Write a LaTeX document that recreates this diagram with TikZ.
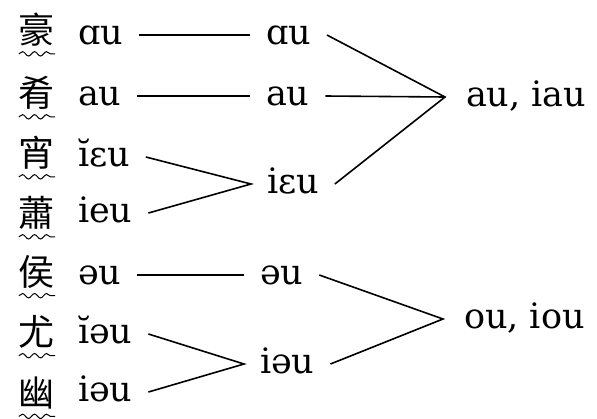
\documentclass[tikz,border=0pt]{standalone}
\usepackage{fontspec}
\setmainfont{DejaVu Serif}
\newfontfamily\cjk{Noto Sans CJK SC}
\usetikzlibrary{decorations.pathmorphing}

\def\ipasize{\fontsize{35}{40}\selectfont}
\def\hansize{\fontsize{36}{40}\selectfont\cjk}
\tikzset{rime/.style={anchor=mid west, inner sep=0pt, outer xsep=16pt, outer ysep=0pt, font=\ipasize},
    merged/.style={rime, outer xsep=21pt},
    han/.style={inner sep=0pt, font=\hansize},
    link/.style={line width=1.6pt},
    wavy/.style={decorate, decoration={snake, segment length=12pt, amplitude=2.2pt}, line width=1pt}}

\begin{document}
\ipasize
\begin{tikzpicture}[x=1pt,y=-1pt]
    \useasboundingbox (0,0) rectangle (597,418);
    % characters
    \node[han] (ch1) at (37,30) {豪};
    \node[han] (ch2) at (37,93) {肴};
    \node[han] (ch3) at (37,153) {宵};
    \node[han] (ch4) at (37,213) {蕭};
    \node[han] (ch5) at (37,272) {侯};
    \node[han] (ch6) at (37,332) {尤};
    \node[han] (ch7) at (37,393) {幽};
    \foreach \n in {1,...,7}
        \draw[wavy] ([yshift=-7pt]ch\n.south west) -- ([yshift=-7pt]ch\n.south east);
    % first stage
    \node[rime] (l1) at (62,35) {ɑu};
    \node[rime] (l2) at (62,96) {au};
    \node[rime] (l3) at (62,157) {ĭɛu};
    \node[rime] (l4) at (62,213) {ieu};
    \node[rime] (l5) at (62,275) {əu};
    \node[rime] (l6) at (62,334) {ĭəu};
    \node[rime] (l7) at (62,392) {iəu};
    % second stage
    \node[rime] (m1) at (250,35) {ɑu};
    \node[rime] (m2) at (250,96) {au};
    \node[rime] (m3) at (251,184) {iɛu};
    \node[rime] (m4) at (244,275) {əu};
    \node[rime] (m5) at (244,364) {iəu};
    % third stage
    \node[merged] (r1) at (445,97) {au, iau};
    \node[merged] (r2) at (443,319) {ou, iou};

    \draw[link] (l1.mid east) -- (m1.mid west);
    \draw[link] (l2.mid east) -- (m2.mid west);
    \draw[link] (l3.mid east) -- (m3.mid west) -- (l4.mid east);
    \draw[link] (l5.mid east) -- (m4.mid west);
    \draw[link] (l6.mid east) -- (m5.mid west) -- (l7.mid east);
    \draw[link] (m1.mid east) -- (r1.mid west) -- (m3.mid east);
    \draw[link] (m2.mid east) -- (r1.mid west);
    \draw[link] (m4.mid east) -- (r2.mid west) -- (m5.mid east);
\end{tikzpicture}
\end{document}
